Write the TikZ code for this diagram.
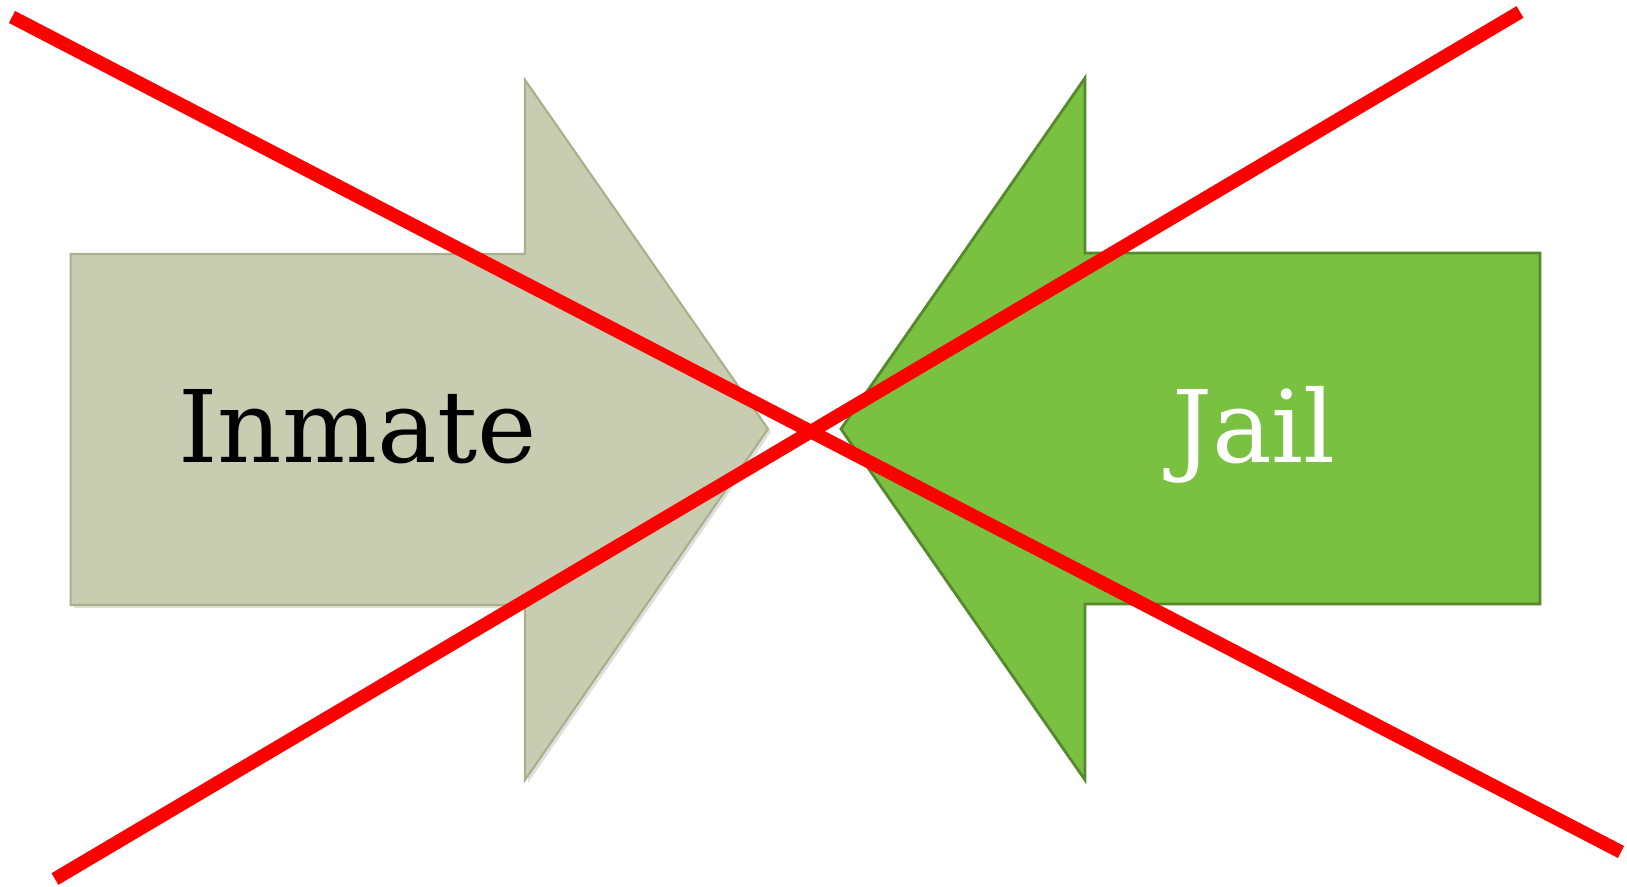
\documentclass[tikz,border=0pt]{standalone}
\usepackage{fontspec}
\setmainfont{DejaVu Serif}
\usepackage{tikz}
\usetikzlibrary{calc,positioning,arrows,shapes,shadows}

\definecolor{inmategrey}{RGB}{200,205,178}
\definecolor{inmateedge}{RGB}{168,178,138}
\definecolor{jailgreen}{RGB}{122,193,66}
\definecolor{jailedge}{RGB}{84,138,44}

\begin{document}
\begin{tikzpicture}[>=latex']
      \tikzset{
	  inmatearrow/.style={fill=inmategrey, draw=inmateedge, line width=0.6pt, line join=miter,
	    drop shadow={shadow xshift=0.03cm, shadow yshift=-0.03cm, opacity=0.25}},
	  jailarrow/.style={fill=jailgreen, draw=jailedge, line width=0.8pt, line join=miter},
	  label/.style={inner sep=0em, anchor=base, font=\fontsize{28.5}{34}\selectfont},
	  cross/.style={draw=red, line width=0.135cm},
      }
      \useasboundingbox (0,0) rectangle (16.27,8.87);

      % Inmate arrow, pointing right
      \path[inmatearrow] (0.706,6.33) -- (5.25,6.33) -- (5.25,8.07) -- (7.68,4.58)
	-- (5.25,1.07) -- (5.25,2.82) -- (0.706,2.82) -- cycle;
      \node (in) at (3.575,4.24) [label, text=black] {Inmate};

      % Jail arrow, pointing left
      \path[jailarrow] (15.40,6.34) -- (10.85,6.34) -- (10.85,8.09) -- (8.41,4.58)
	-- (10.85,1.07) -- (10.85,2.83) -- (15.40,2.83) -- cycle;
      \node (ja) at (12.54,4.24) [label, text=white] {Jail};

      % crossed out
      \coordinate (tl) at (0.12,8.70);
      \coordinate (br) at (16.21,0.35);
      \coordinate (bl) at (0.55,0.08);
      \coordinate (tr) at (15.20,8.75);
      \draw[cross] (tl) -- (br);
      \draw[cross] (bl) -- (tr);
    \end{tikzpicture}
\end{document}
